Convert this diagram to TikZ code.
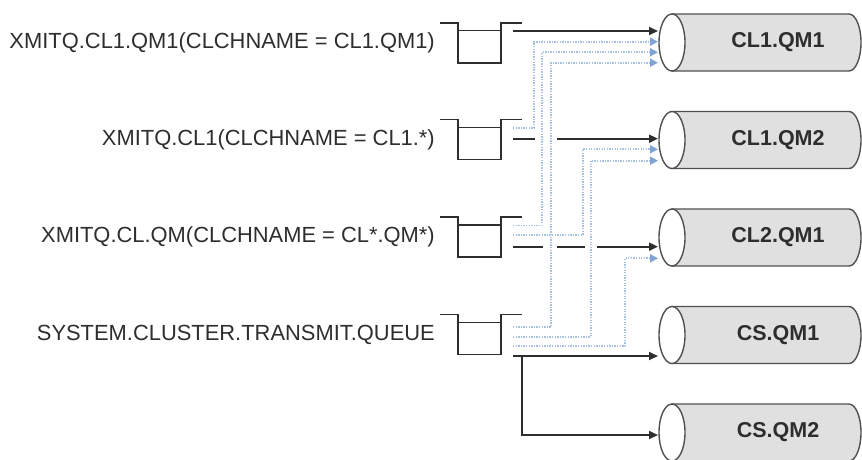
\documentclass[tikz,border=0pt]{standalone}
\usepackage{fontspec}
\setmainfont{Liberation Sans}
\usetikzlibrary{arrows.meta}
\definecolor{ink}{HTML}{2E2E2E}
\definecolor{dotblue}{HTML}{A8C0E2}
\definecolor{tipblue}{HTML}{7FA4D4}
\definecolor{cylfill}{HTML}{E0E0E0}
\definecolor{cylline}{HTML}{505050}
\newcommand\qmcyl[3]{%
  \path[cylbody] (672,#2-28.5) -- (849,#2-28.5) arc[start angle=-90,end angle=90,x radius=12,y radius=28.5] -- (672,#2+28.5) -- cycle;
  \path[cylface] (672,#2) ellipse[x radius=13,y radius=28.5];
  \node[cyltext] (#1) at (778,#2) {#3};}
\newcommand\qsym[2]{%
  \draw[qline] (440,#2) -- (458,#2) -- (458,#2+40) -- (501,#2+40) -- (501,#2) -- (522,#2);
  \draw[qline,line width=1.5pt] (458,#2+8) -- (501,#2+8);
  \coordinate (#1) at (479.5,#2+20);}
\begin{document}
\begin{tikzpicture}[x=1pt,y=-1pt,
  qlabel/.style={anchor=east,inner sep=0pt,font=\fontsize{21.9}{24}\selectfont,text=ink},
  cyltext/.style={inner sep=0pt,font=\fontsize{21.5}{24}\selectfont\bfseries,text=ink},
  qline/.style={draw=ink,line width=1.8pt},
  flow/.style={draw=ink,line width=1.8pt,-{Triangle[length=9pt,width=8pt]}},
  alt/.style={draw=dotblue,line width=1.8pt,dash pattern=on 1.3pt off 1.3pt,-{Triangle[length=8pt,width=8pt,fill=tipblue,color=tipblue]}},
  cylbody/.style={draw=cylline,line width=1.4pt,fill=cylfill},
  cylface/.style={draw=cylline,line width=1.4pt,fill=white}]
\useasboundingbox (0,0) rectangle (862,459);

% queue labels
\node[qlabel] (l1) at (435,42.7) {XMITQ.CL1.QM1(CLCHNAME = CL1.QM1)};
\node[qlabel] (l2) at (435,139.5) {XMITQ.CL1(CLCHNAME = CL1.*)};
\node[qlabel] (l3) at (435,236.8) {XMITQ.CL.QM(CLCHNAME = CL*.QM*)};
\node[qlabel] (l4) at (435,334.5) {SYSTEM.CLUSTER.TRANSMIT.QUEUE};

% queue symbols
\qsym{q1}{22.7}
\qsym{q2}{119.5}
\qsym{q3}{216.8}
\qsym{q4}{314.5}

% cylinders
\qmcyl{c1}{42.5}{CL1.QM1}
\qmcyl{c2}{140}{CL1.QM2}
\qmcyl{c3}{237.5}{CL2.QM1}
\qmcyl{c4}{335}{CS.QM1}
\qmcyl{c5}{432.5}{CS.QM2}

% connector end points
\coordinate (o1k) at (513,31);    \coordinate (e1k) at (658,31);
\coordinate (o2d) at (513,127.7); \coordinate (b2d) at (534,41.7);  \coordinate (e2d) at (658,41.7);
\coordinate (o2k) at (513,138.7); \coordinate (e2k) at (658,138.7);
\coordinate (o3a) at (513,225.5); \coordinate (b3a) at (542,52.3);  \coordinate (e3a) at (658,52.3);
\coordinate (o3b) at (513,235);   \coordinate (b3b) at (582.7,149.3); \coordinate (e3b) at (658,149.3);
\coordinate (o3k) at (513,246.7); \coordinate (e3k) at (658,246.7);
\coordinate (o4a) at (513,327.3); \coordinate (b4a) at (551,62.7);  \coordinate (e4a) at (658,62.7);
\coordinate (o4b) at (513,336.7); \coordinate (b4b) at (590.7,160.7); \coordinate (e4b) at (658,160.7);
\coordinate (o4c) at (513,346);   \coordinate (b4c) at (625,258.3); \coordinate (e4c) at (658,258.3);
\coordinate (o4k) at (513,356);   \coordinate (e4k) at (658,356);
\coordinate (s4k) at (522,356);   \coordinate (e5k) at (658,435);

% dotted alternative routes
\draw[alt] (o2d) -| (b2d) -- (e2d);
\draw[alt] (o3a) -| (b3a) -- (e3a);
\draw[alt] (o3b) -| (b3b) -- (e3b);
\draw[alt] (o4a) -| (b4a) -- (e4a);
\draw[alt] (o4b) -| (b4b) -- (e4b);
\draw[alt] (o4c) -| (b4c) -- (e4c);

% solid routes
\draw[flow] (o1k) -- (e1k);
\draw[flow,dash pattern=on 22pt off 22pt on 300pt] (o2k) -- (e2k);
\draw[flow,dash pattern=on 30pt off 14pt on 28pt off 12pt on 300pt] (o3k) -- (e3k);
\draw[flow] (o4k) -- (e4k);
\draw[flow] (s4k) |- (e5k);
\end{tikzpicture}
\end{document}
